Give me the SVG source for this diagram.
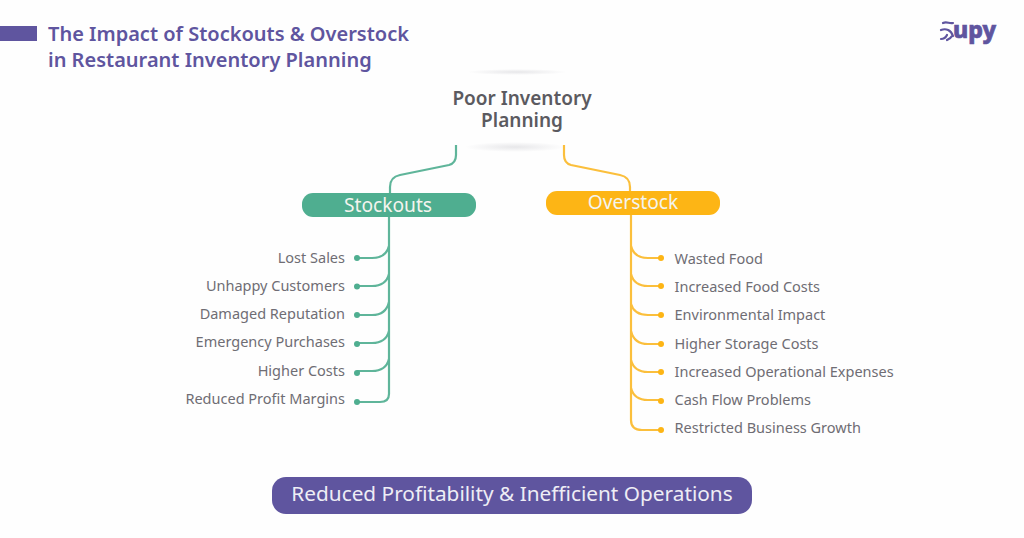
<svg xmlns="http://www.w3.org/2000/svg" width="1024" height="538" viewBox="0 0 1024 538">
<style>
text{font-family:"Noto Sans","Open Sans",sans-serif}
.title{font-size:20px;font-weight:600;fill:#5f559f}
.item{font-size:14.5px;fill:#6f6d74}
.pill{font-size:19.200px;fill:#f4f4ee;text-anchor:middle}
.s{fill:none;stroke:#5fb59a;stroke-width:2.200}
.o{fill:none;stroke:#fbbf3c;stroke-width:2.200}
.ds{fill:#4fae90}
.do{fill:#fdb515}
.end{text-anchor:end}
</style>
<defs>
<radialGradient id="sh"><stop offset="0" stop-color="#c4c4ca" stop-opacity=".4"/><stop offset="1" stop-color="#c4c4ca" stop-opacity="0"/></radialGradient>
</defs>
<rect width="1024" height="538" fill="#fefefe"/>
<g id="header">
<rect x="0" y="26" width="37" height="15" fill="#5f559f"/>
<text class="title" x="48" y="41">The Impact of Stockouts &amp; Overstock</text>
<text class="title" x="48" y="67">in Restaurant Inventory Planning</text>
</g>
<g id="logo">
<path d="M943 23c4-2 6 1 10 0M941 30c5-2 10 0 12 6M941 39c3 0 5-2 6-4M947 40c2-1 4-2 5-4" fill="none" stroke="#5f559f" stroke-width="2.200" stroke-linecap="round"/>
<text x="953" y="38" font-size="23" font-weight="800" fill="#5f559f" stroke="#5f559f" stroke-width=".7" textLength="43" lengthAdjust="spacingAndGlyphs">upy</text>
</g>
<g id="connectors">
<path class="s" d="M456 145V155Q456 163 449 165L400 175Q390 177 390 187V194"/>
<path class="s" d="M389 216V394Q389 402 380 402H357"/>
<path class="s" d="M389 246Q386 258 372 258H357M389 274Q386 286 372 286H357M389 302Q386 315 372 315H357M389 331Q386 343 372 343H357M389 359Q386 371 372 371H357"/>
<path class="o" d="M564 145V155Q564 163 571 165L620 175Q630 177 630 187V192"/>
<path class="o" d="M631 214V420Q631 430 642 430H661"/>
<path class="o" d="M631 246Q634 258 648 258H661M631 274Q634 286 648 286H661M631 304Q634 315 648 315H661M631 331Q634 344 648 344H661M631 360Q634 372 648 372H661M631 388Q634 400 648 400H661"/>
</g>
<g id="poor-inventory-planning">
<ellipse cx="517" cy="72" rx="50" ry="3" fill="url(#sh)"/>
<ellipse cx="515" cy="147" rx="50" ry="5" fill="url(#sh)"/>
<text font-size="19" font-weight="600" fill="#5b5a60" text-anchor="middle"><tspan x="522" y="105">Poor Inventory</tspan><tspan x="522" y="126.500">Planning</tspan></text>
</g>
<g id="stockouts">
<rect x="302" y="193" width="174" height="24" rx="11" fill="#4fae90"/>
<text class="pill" x="388" y="211.500">Stockouts</text>
</g>
<g id="overstock">
<rect x="546" y="191" width="174" height="24" rx="11" fill="#fdb515"/>
<text class="pill" x="633" y="208.500">Overstock</text>
</g>
<g id="stockouts-items">
<circle class="ds" cx="357" cy="258" r="3"/><text class="item end" x="345" y="263">Lost Sales</text>
<circle class="ds" cx="357" cy="286.500" r="3"/><text class="item end" x="345" y="291">Unhappy Customers</text>
<circle class="ds" cx="357" cy="315" r="3"/><text class="item end" x="345" y="319">Damaged Reputation</text>
<circle class="ds" cx="357" cy="344" r="3"/><text class="item end" x="345" y="347">Emergency Purchases</text>
<circle class="ds" cx="357" cy="373" r="3"/><text class="item end" x="345" y="376">Higher Costs</text>
<circle class="ds" cx="357" cy="402" r="3"/><text class="item end" x="345" y="404">Reduced Profit Margins</text>
</g>
<g id="overstock-items">
<circle class="do" cx="661" cy="258" r="3"/><text class="item" x="674.500" y="264">Wasted Food</text>
<circle class="do" cx="661" cy="286" r="3"/><text class="item" x="674.500" y="292">Increased Food Costs</text>
<circle class="do" cx="661" cy="315" r="3"/><text class="item" x="674.500" y="320">Environmental Impact</text>
<circle class="do" cx="661" cy="344" r="3"/><text class="item" x="674.500" y="349">Higher Storage Costs</text>
<circle class="do" cx="661" cy="372" r="3"/><text class="item" x="674.500" y="377">Increased Operational Expenses</text>
<circle class="do" cx="661" cy="401" r="3"/><text class="item" x="674.500" y="405">Cash Flow Problems</text>
<circle class="do" cx="661" cy="430" r="3"/><text class="item" x="674.500" y="433">Restricted Business Growth</text>
</g>
<g id="outcome">
<rect x="272" y="477" width="480" height="37" rx="14" fill="#5f559f"/>
<text x="512" y="500.500" font-size="20.800" fill="#eeedf5" text-anchor="middle">Reduced Profitability &amp; Inefficient Operations</text>
</g>
</svg>
